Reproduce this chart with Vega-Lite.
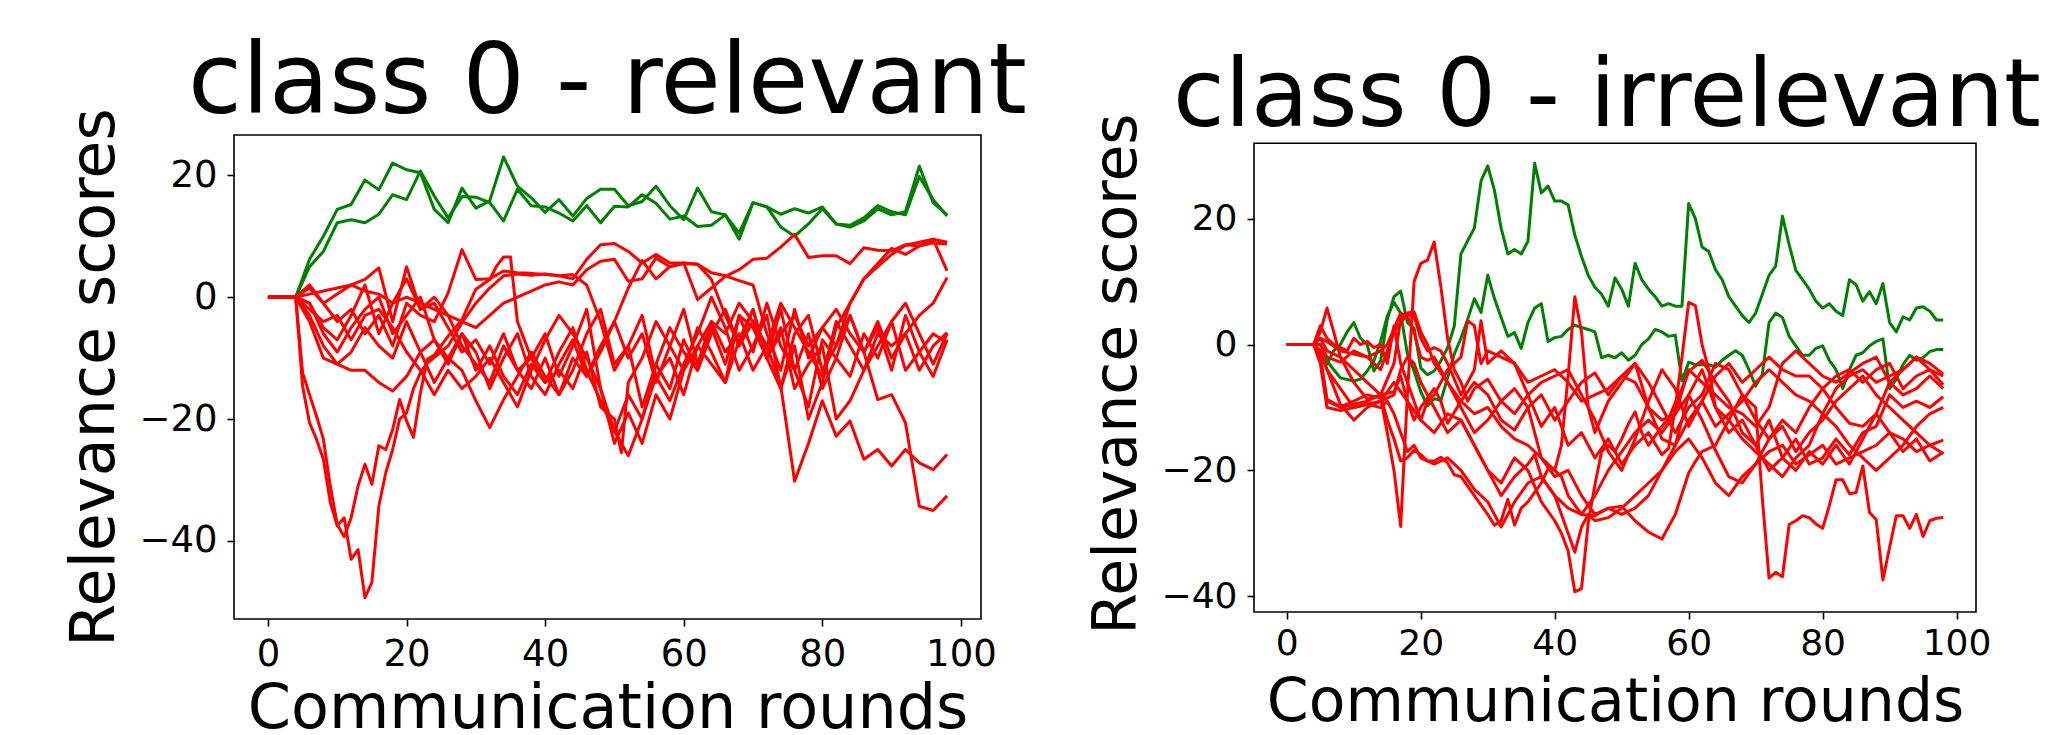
{
"$schema":"https://vega.github.io/schema/vega-lite/v6.json",
"background":"white",
"padding":{"left":63,"top":33,"right":0,"bottom":0},
"spacing":59,
"bounds":"full",
"config":{
"view":{"stroke":"#000000","strokeWidth":1.6},
"axis":{"domain":false,"grid":false,"tickSize":7,"tickWidth":1.6,"tickColor":"#000000","labelColor":"#000000","titleColor":"#000000","labelFont":"DejaVu Sans","titleFont":"DejaVu Sans","titleFontWeight":"normal"},
"title":{"font":"DejaVu Sans","fontWeight":"normal","color":"#000000","frame":"group","anchor":"middle"},
"line":{"strokeJoin":"round"}
},
"datasets":{
"L":[
{"s":"G1","x":0,"y":0},{"s":"G1","x":2,"y":0},{"s":"G1","x":4,"y":0},{"s":"G1","x":6,"y":6.2},{"s":"G1","x":8,"y":10},{"s":"G1","x":10,"y":14.4},{"s":"G1","x":12,"y":15.2},{"s":"G1","x":14,"y":19.2},{"s":"G1","x":16,"y":17.6},{"s":"G1","x":18,"y":22},{"s":"G1","x":20,"y":20.9},{"s":"G1","x":22,"y":20.4},{"s":"G1","x":24,"y":14.4},{"s":"G1","x":26,"y":12.2},{"s":"G1","x":28,"y":17.9},{"s":"G1","x":30,"y":14.6},{"s":"G1","x":32,"y":15.8},{"s":"G1","x":34,"y":23},{"s":"G1","x":36,"y":18.2},{"s":"G1","x":38,"y":16.3},{"s":"G1","x":40,"y":13.9},{"s":"G1","x":42,"y":16},{"s":"G1","x":44,"y":13.3},{"s":"G1","x":46,"y":16.2},{"s":"G1","x":48,"y":17.7},{"s":"G1","x":50,"y":17.7},{"s":"G1","x":52,"y":15},{"s":"G1","x":54,"y":15.7},{"s":"G1","x":56,"y":18.2},{"s":"G1","x":58,"y":15},{"s":"G1","x":60,"y":12.7},{"s":"G1","x":62,"y":17.9},{"s":"G1","x":64,"y":14},{"s":"G1","x":66,"y":13.5},{"s":"G1","x":68,"y":10.5},{"s":"G1","x":70,"y":15.5},{"s":"G1","x":72,"y":14.8},{"s":"G1","x":74,"y":13.6},{"s":"G1","x":76,"y":14.5},{"s":"G1","x":78,"y":13.8},{"s":"G1","x":80,"y":14.8},{"s":"G1","x":82,"y":12},{"s":"G1","x":84,"y":11.5},{"s":"G1","x":86,"y":12.5},{"s":"G1","x":88,"y":14.5},{"s":"G1","x":90,"y":13.5},{"s":"G1","x":92,"y":14},{"s":"G1","x":94,"y":21.5},{"s":"G1","x":96,"y":15.5},{"s":"G1","x":98,"y":13.5},
{"s":"G2","x":0,"y":0},{"s":"G2","x":2,"y":0},{"s":"G2","x":4,"y":0},{"s":"G2","x":6,"y":5},{"s":"G2","x":8,"y":7.5},{"s":"G2","x":10,"y":12.2},{"s":"G2","x":12,"y":12.7},{"s":"G2","x":14,"y":12.2},{"s":"G2","x":16,"y":13.6},{"s":"G2","x":18,"y":16.8},{"s":"G2","x":20,"y":16},{"s":"G2","x":22,"y":20.7},{"s":"G2","x":24,"y":16.6},{"s":"G2","x":26,"y":13},{"s":"G2","x":28,"y":16.5},{"s":"G2","x":30,"y":16.4},{"s":"G2","x":32,"y":15.5},{"s":"G2","x":34,"y":12.5},{"s":"G2","x":36,"y":17.7},{"s":"G2","x":38,"y":15},{"s":"G2","x":40,"y":14.8},{"s":"G2","x":42,"y":13.8},{"s":"G2","x":44,"y":12.5},{"s":"G2","x":46,"y":15},{"s":"G2","x":48,"y":12.2},{"s":"G2","x":50,"y":14.9},{"s":"G2","x":52,"y":14.8},{"s":"G2","x":54,"y":16.8},{"s":"G2","x":56,"y":15.4},{"s":"G2","x":58,"y":12.8},{"s":"G2","x":60,"y":13.3},{"s":"G2","x":62,"y":11.6},{"s":"G2","x":64,"y":11.8},{"s":"G2","x":66,"y":13.5},{"s":"G2","x":68,"y":9.5},{"s":"G2","x":70,"y":15.5},{"s":"G2","x":72,"y":14.8},{"s":"G2","x":74,"y":11.5},{"s":"G2","x":76,"y":10},{"s":"G2","x":78,"y":12},{"s":"G2","x":80,"y":14.5},{"s":"G2","x":82,"y":12},{"s":"G2","x":84,"y":11.8},{"s":"G2","x":86,"y":13},{"s":"G2","x":88,"y":15},{"s":"G2","x":90,"y":14},{"s":"G2","x":92,"y":13.5},{"s":"G2","x":94,"y":19.8},{"s":"G2","x":96,"y":16},{"s":"G2","x":98,"y":13.3},
{"s":"R1","x":0,"y":0},{"s":"R1","x":2,"y":0},{"s":"R1","x":4,"y":0},{"s":"R1","x":5,"y":-14.6},{"s":"R1","x":6,"y":-20.6},{"s":"R1","x":7,"y":-23.3},{"s":"R1","x":8,"y":-26.6},{"s":"R1","x":9,"y":-33.7},{"s":"R1","x":10,"y":-37.5},{"s":"R1","x":11,"y":-36.2},{"s":"R1","x":12,"y":-43},{"s":"R1","x":13,"y":-41.4},{"s":"R1","x":14,"y":-49.3},{"s":"R1","x":15,"y":-46.8},{"s":"R1","x":16,"y":-34.3},{"s":"R1","x":17,"y":-28.8},{"s":"R1","x":18,"y":-25},{"s":"R1","x":19,"y":-20},{"s":"R1","x":20,"y":-19},{"s":"R1","x":21,"y":-15},{"s":"R1","x":22,"y":-12.4},{"s":"R1","x":23,"y":-10.8},{"s":"R1","x":24,"y":-9.9},{"s":"R1","x":26,"y":-8},{"s":"R1","x":28,"y":-4.2},{"s":"R1","x":30,"y":-1},{"s":"R1","x":32,"y":1.5},{"s":"R1","x":34,"y":3.5},{"s":"R1","x":36,"y":3.8},{"s":"R1","x":38,"y":3.6},{"s":"R1","x":40,"y":3.8},{"s":"R1","x":42,"y":3.5},{"s":"R1","x":44,"y":3.7},{"s":"R1","x":46,"y":2},{"s":"R1","x":48,"y":-4},{"s":"R1","x":50,"y":-12},{"s":"R1","x":52,"y":-8},{"s":"R1","x":54,"y":-18},{"s":"R1","x":56,"y":-11},{"s":"R1","x":58,"y":-15},{"s":"R1","x":60,"y":-7},{"s":"R1","x":62,"y":-12},{"s":"R1","x":64,"y":-5},{"s":"R1","x":66,"y":-11},{"s":"R1","x":68,"y":-3},{"s":"R1","x":70,"y":-9},{"s":"R1","x":72,"y":-1},{"s":"R1","x":74,"y":-8},{"s":"R1","x":76,"y":-12},{"s":"R1","x":78,"y":-6},{"s":"R1","x":80,"y":-15},{"s":"R1","x":82,"y":-10},{"s":"R1","x":84,"y":-13},{"s":"R1","x":86,"y":-6},{"s":"R1","x":88,"y":-10},{"s":"R1","x":90,"y":-4},{"s":"R1","x":92,"y":-12},{"s":"R1","x":94,"y":-9},{"s":"R1","x":96,"y":-13},{"s":"R1","x":98,"y":-7},
{"s":"R2","x":0,"y":0},{"s":"R2","x":2,"y":0},{"s":"R2","x":4,"y":0},{"s":"R2","x":5,"y":-12.4},{"s":"R2","x":6,"y":-16},{"s":"R2","x":7,"y":-19.5},{"s":"R2","x":8,"y":-23.3},{"s":"R2","x":9,"y":-31},{"s":"R2","x":10,"y":-37.3},{"s":"R2","x":11,"y":-39.3},{"s":"R2","x":12,"y":-36.2},{"s":"R2","x":13,"y":-31},{"s":"R2","x":14,"y":-27.4},{"s":"R2","x":15,"y":-30.7},{"s":"R2","x":16,"y":-24.4},{"s":"R2","x":17,"y":-25},{"s":"R2","x":18,"y":-21.7},{"s":"R2","x":19,"y":-16.8},{"s":"R2","x":20,"y":-20.3},{"s":"R2","x":21,"y":-23},{"s":"R2","x":22,"y":-15.7},{"s":"R2","x":23,"y":-10.2},{"s":"R2","x":24,"y":-9.5},{"s":"R2","x":26,"y":-6.4},{"s":"R2","x":28,"y":-3.7},{"s":"R2","x":30,"y":1.3},{"s":"R2","x":32,"y":2.9},{"s":"R2","x":33,"y":5.1},{"s":"R2","x":34,"y":6.6},{"s":"R2","x":35,"y":6.6},{"s":"R2","x":36,"y":-4},{"s":"R2","x":38,"y":-10},{"s":"R2","x":40,"y":-14},{"s":"R2","x":42,"y":-12},{"s":"R2","x":44,"y":-15},{"s":"R2","x":46,"y":-9},{"s":"R2","x":48,"y":-18},{"s":"R2","x":50,"y":-20},{"s":"R2","x":51,"y":-25.5},{"s":"R2","x":52,"y":-14},{"s":"R2","x":54,"y":-10},{"s":"R2","x":56,"y":-4},{"s":"R2","x":58,"y":-8},{"s":"R2","x":60,"y":-12},{"s":"R2","x":62,"y":-5},{"s":"R2","x":64,"y":-9},{"s":"R2","x":66,"y":-14},{"s":"R2","x":68,"y":-7},{"s":"R2","x":70,"y":-2},{"s":"R2","x":72,"y":-10},{"s":"R2","x":74,"y":-5},{"s":"R2","x":76,"y":-15},{"s":"R2","x":78,"y":-11},{"s":"R2","x":80,"y":-8},{"s":"R2","x":82,"y":-20},{"s":"R2","x":84,"y":-17},{"s":"R2","x":86,"y":-12},{"s":"R2","x":88,"y":-8},{"s":"R2","x":90,"y":-4},{"s":"R2","x":92,"y":-1},{"s":"R2","x":94,"y":-6},{"s":"R2","x":96,"y":-11},{"s":"R2","x":98,"y":-6},
{"s":"R3","x":0,"y":0},{"s":"R3","x":2,"y":0},{"s":"R3","x":4,"y":0},{"s":"R3","x":6,"y":1.5},{"s":"R3","x":8,"y":-1},{"s":"R3","x":10,"y":-4},{"s":"R3","x":12,"y":-2},{"s":"R3","x":14,"y":-6},{"s":"R3","x":16,"y":-3},{"s":"R3","x":18,"y":-8},{"s":"R3","x":20,"y":-1},{"s":"R3","x":22,"y":-3},{"s":"R3","x":24,"y":-4},{"s":"R3","x":26,"y":0.7},{"s":"R3","x":28,"y":7.8},{"s":"R3","x":30,"y":2.9},{"s":"R3","x":32,"y":3},{"s":"R3","x":34,"y":4.3},{"s":"R3","x":36,"y":4},{"s":"R3","x":38,"y":3.9},{"s":"R3","x":40,"y":3.7},{"s":"R3","x":42,"y":3.5},{"s":"R3","x":44,"y":3},{"s":"R3","x":46,"y":6.2},{"s":"R3","x":48,"y":8.6},{"s":"R3","x":50,"y":8.8},{"s":"R3","x":52,"y":7.5},{"s":"R3","x":54,"y":5.6},{"s":"R3","x":56,"y":7},{"s":"R3","x":58,"y":5.6},{"s":"R3","x":60,"y":5.6},{"s":"R3","x":62,"y":5.4},{"s":"R3","x":64,"y":2.9},{"s":"R3","x":66,"y":-3},{"s":"R3","x":68,"y":-8},{"s":"R3","x":70,"y":-2},{"s":"R3","x":72,"y":-10},{"s":"R3","x":74,"y":-15},{"s":"R3","x":76,"y":-6},{"s":"R3","x":78,"y":-3},{"s":"R3","x":80,"y":-12},{"s":"R3","x":82,"y":-8},{"s":"R3","x":84,"y":-1},{"s":"R3","x":86,"y":3},{"s":"R3","x":88,"y":5},{"s":"R3","x":90,"y":7},{"s":"R3","x":92,"y":8.5},{"s":"R3","x":94,"y":9},{"s":"R3","x":96,"y":9.5},{"s":"R3","x":98,"y":4.3},
{"s":"R4","x":0,"y":0},{"s":"R4","x":2,"y":0},{"s":"R4","x":4,"y":0},{"s":"R4","x":6,"y":0.5},{"s":"R4","x":8,"y":1},{"s":"R4","x":10,"y":1.5},{"s":"R4","x":12,"y":2},{"s":"R4","x":14,"y":1},{"s":"R4","x":16,"y":0.5},{"s":"R4","x":18,"y":-1},{"s":"R4","x":20,"y":0},{"s":"R4","x":22,"y":-1},{"s":"R4","x":24,"y":-2},{"s":"R4","x":26,"y":-3},{"s":"R4","x":28,"y":-4},{"s":"R4","x":30,"y":-5},{"s":"R4","x":32,"y":-3},{"s":"R4","x":34,"y":-1},{"s":"R4","x":36,"y":0},{"s":"R4","x":38,"y":1},{"s":"R4","x":40,"y":2},{"s":"R4","x":42,"y":2.5},{"s":"R4","x":44,"y":2},{"s":"R4","x":46,"y":4.5},{"s":"R4","x":48,"y":5.9},{"s":"R4","x":50,"y":6.2},{"s":"R4","x":52,"y":2.6},{"s":"R4","x":54,"y":3},{"s":"R4","x":56,"y":6.4},{"s":"R4","x":58,"y":5},{"s":"R4","x":60,"y":5.6},{"s":"R4","x":62,"y":-0.4},{"s":"R4","x":64,"y":1.5},{"s":"R4","x":66,"y":3.4},{"s":"R4","x":68,"y":4.5},{"s":"R4","x":70,"y":6.2},{"s":"R4","x":72,"y":6.4},{"s":"R4","x":74,"y":8.2},{"s":"R4","x":76,"y":10.3},{"s":"R4","x":78,"y":6.5},{"s":"R4","x":80,"y":6.8},{"s":"R4","x":82,"y":6.8},{"s":"R4","x":84,"y":5.5},{"s":"R4","x":86,"y":8.1},{"s":"R4","x":88,"y":7.7},{"s":"R4","x":90,"y":7.6},{"s":"R4","x":92,"y":8.6},{"s":"R4","x":94,"y":8.4},{"s":"R4","x":96,"y":8.9},{"s":"R4","x":98,"y":8.7},
{"s":"R5","x":0,"y":0},{"s":"R5","x":2,"y":0},{"s":"R5","x":4,"y":0},{"s":"R5","x":6,"y":-3},{"s":"R5","x":8,"y":-8},{"s":"R5","x":10,"y":-11},{"s":"R5","x":12,"y":-9},{"s":"R5","x":14,"y":-5},{"s":"R5","x":16,"y":-8},{"s":"R5","x":18,"y":-10},{"s":"R5","x":20,"y":-4},{"s":"R5","x":22,"y":-9},{"s":"R5","x":24,"y":-14},{"s":"R5","x":26,"y":-10},{"s":"R5","x":28,"y":-6},{"s":"R5","x":30,"y":-12},{"s":"R5","x":32,"y":-8},{"s":"R5","x":34,"y":-13},{"s":"R5","x":36,"y":-16},{"s":"R5","x":38,"y":-11},{"s":"R5","x":40,"y":-14},{"s":"R5","x":42,"y":-9},{"s":"R5","x":44,"y":-5},{"s":"R5","x":46,"y":-12},{"s":"R5","x":48,"y":-17},{"s":"R5","x":50,"y":-22},{"s":"R5","x":52,"y":-16},{"s":"R5","x":54,"y":-20},{"s":"R5","x":56,"y":-11},{"s":"R5","x":58,"y":-5},{"s":"R5","x":60,"y":-9},{"s":"R5","x":62,"y":-12},{"s":"R5","x":64,"y":-6},{"s":"R5","x":66,"y":-2},{"s":"R5","x":68,"y":-8},{"s":"R5","x":70,"y":-4},{"s":"R5","x":72,"y":-10},{"s":"R5","x":74,"y":-6},{"s":"R5","x":76,"y":-3},{"s":"R5","x":78,"y":-8},{"s":"R5","x":80,"y":-5},{"s":"R5","x":82,"y":-2},{"s":"R5","x":84,"y":-6},{"s":"R5","x":86,"y":-9},{"s":"R5","x":88,"y":-16.8},{"s":"R5","x":90,"y":-16},{"s":"R5","x":92,"y":-20.6},{"s":"R5","x":94,"y":-34.3},{"s":"R5","x":96,"y":-35},{"s":"R5","x":98,"y":-32.6},
{"s":"R6","x":0,"y":0},{"s":"R6","x":2,"y":0},{"s":"R6","x":4,"y":0},{"s":"R6","x":6,"y":-2},{"s":"R6","x":8,"y":-4},{"s":"R6","x":10,"y":-3},{"s":"R6","x":12,"y":-7},{"s":"R6","x":14,"y":-3},{"s":"R6","x":16,"y":-2},{"s":"R6","x":18,"y":-5},{"s":"R6","x":20,"y":-9},{"s":"R6","x":22,"y":-12},{"s":"R6","x":24,"y":-16},{"s":"R6","x":26,"y":-12},{"s":"R6","x":28,"y":-15},{"s":"R6","x":30,"y":-13},{"s":"R6","x":32,"y":-10},{"s":"R6","x":34,"y":-14},{"s":"R6","x":36,"y":-18},{"s":"R6","x":38,"y":-12},{"s":"R6","x":40,"y":-7},{"s":"R6","x":42,"y":-3},{"s":"R6","x":44,"y":-6},{"s":"R6","x":46,"y":-10},{"s":"R6","x":48,"y":-15},{"s":"R6","x":50,"y":-24},{"s":"R6","x":52,"y":-19},{"s":"R6","x":54,"y":-24},{"s":"R6","x":56,"y":-16},{"s":"R6","x":58,"y":-20},{"s":"R6","x":60,"y":-12},{"s":"R6","x":62,"y":-8},{"s":"R6","x":64,"y":-4},{"s":"R6","x":66,"y":-6},{"s":"R6","x":68,"y":-1},{"s":"R6","x":70,"y":-4},{"s":"R6","x":72,"y":-8},{"s":"R6","x":74,"y":-14.5},{"s":"R6","x":76,"y":-30.2},{"s":"R6","x":78,"y":-24},{"s":"R6","x":80,"y":-17},{"s":"R6","x":82,"y":-22.8},{"s":"R6","x":84,"y":-20.3},{"s":"R6","x":86,"y":-26.6},{"s":"R6","x":88,"y":-25},{"s":"R6","x":90,"y":-27.7},{"s":"R6","x":92,"y":-25},{"s":"R6","x":94,"y":-27.2},{"s":"R6","x":96,"y":-28.3},{"s":"R6","x":98,"y":-25.8},
{"s":"R7","x":0,"y":0},{"s":"R7","x":2,"y":0},{"s":"R7","x":4,"y":0},{"s":"R7","x":6,"y":-4},{"s":"R7","x":8,"y":-10},{"s":"R7","x":10,"y":-11},{"s":"R7","x":12,"y":-12},{"s":"R7","x":14,"y":-12},{"s":"R7","x":16,"y":-14},{"s":"R7","x":18,"y":-15.4},{"s":"R7","x":20,"y":-13},{"s":"R7","x":22,"y":-9},{"s":"R7","x":24,"y":-7},{"s":"R7","x":26,"y":-10},{"s":"R7","x":28,"y":-12},{"s":"R7","x":30,"y":-17},{"s":"R7","x":32,"y":-21.4},{"s":"R7","x":34,"y":-16.8},{"s":"R7","x":36,"y":-13},{"s":"R7","x":38,"y":-9},{"s":"R7","x":40,"y":-13},{"s":"R7","x":42,"y":-16},{"s":"R7","x":44,"y":-10},{"s":"R7","x":46,"y":-13},{"s":"R7","x":48,"y":-8},{"s":"R7","x":50,"y":-4},{"s":"R7","x":52,"y":1.5},{"s":"R7","x":54,"y":6},{"s":"R7","x":56,"y":3},{"s":"R7","x":58,"y":5},{"s":"R7","x":60,"y":5.5},{"s":"R7","x":62,"y":5.4},{"s":"R7","x":64,"y":4},{"s":"R7","x":66,"y":3.5},{"s":"R7","x":68,"y":2.7},{"s":"R7","x":70,"y":2},{"s":"R7","x":72,"y":-6},{"s":"R7","x":74,"y":-12},{"s":"R7","x":76,"y":-2},{"s":"R7","x":78,"y":-10},{"s":"R7","x":80,"y":-5},{"s":"R7","x":82,"y":-8},{"s":"R7","x":84,"y":-3},{"s":"R7","x":86,"y":-9},{"s":"R7","x":88,"y":-4},{"s":"R7","x":90,"y":-10},{"s":"R7","x":92,"y":-6},{"s":"R7","x":94,"y":-12},{"s":"R7","x":96,"y":-8},{"s":"R7","x":98,"y":-5.8},
{"s":"R8","x":0,"y":0},{"s":"R8","x":2,"y":0},{"s":"R8","x":4,"y":0},{"s":"R8","x":6,"y":2},{"s":"R8","x":8,"y":-1},{"s":"R8","x":10,"y":0.5},{"s":"R8","x":12,"y":2},{"s":"R8","x":14,"y":2.9},{"s":"R8","x":16,"y":4.8},{"s":"R8","x":18,"y":-4},{"s":"R8","x":20,"y":5},{"s":"R8","x":22,"y":-2},{"s":"R8","x":24,"y":0},{"s":"R8","x":26,"y":-3},{"s":"R8","x":28,"y":-8},{"s":"R8","x":30,"y":-11},{"s":"R8","x":32,"y":-14},{"s":"R8","x":34,"y":-8},{"s":"R8","x":36,"y":-12},{"s":"R8","x":38,"y":-10},{"s":"R8","x":40,"y":-6},{"s":"R8","x":42,"y":-13},{"s":"R8","x":44,"y":-8},{"s":"R8","x":46,"y":-2},{"s":"R8","x":48,"y":-15},{"s":"R8","x":50,"y":-22},{"s":"R8","x":52,"y":-26},{"s":"R8","x":54,"y":-20},{"s":"R8","x":56,"y":-13},{"s":"R8","x":58,"y":-10},{"s":"R8","x":60,"y":-16},{"s":"R8","x":62,"y":-8},{"s":"R8","x":64,"y":-11},{"s":"R8","x":66,"y":-14},{"s":"R8","x":68,"y":-3},{"s":"R8","x":70,"y":-5},{"s":"R8","x":72,"y":-10},{"s":"R8","x":74,"y":-2},{"s":"R8","x":76,"y":-12},{"s":"R8","x":78,"y":-18},{"s":"R8","x":80,"y":-7},{"s":"R8","x":82,"y":-10},{"s":"R8","x":84,"y":-3},{"s":"R8","x":86,"y":-9},{"s":"R8","x":88,"y":-5},{"s":"R8","x":90,"y":-12},{"s":"R8","x":92,"y":-3},{"s":"R8","x":94,"y":-9},{"s":"R8","x":96,"y":-6},{"s":"R8","x":98,"y":-7.5},
{"s":"R9","x":0,"y":0},{"s":"R9","x":2,"y":0},{"s":"R9","x":4,"y":0},{"s":"R9","x":6,"y":-1},{"s":"R9","x":8,"y":-5},{"s":"R9","x":10,"y":-7},{"s":"R9","x":12,"y":-3},{"s":"R9","x":14,"y":2},{"s":"R9","x":16,"y":-6},{"s":"R9","x":18,"y":-1},{"s":"R9","x":20,"y":3},{"s":"R9","x":22,"y":-2},{"s":"R9","x":24,"y":-1},{"s":"R9","x":26,"y":-5},{"s":"R9","x":28,"y":-9},{"s":"R9","x":30,"y":-7},{"s":"R9","x":32,"y":-11},{"s":"R9","x":34,"y":-6},{"s":"R9","x":36,"y":-12},{"s":"R9","x":38,"y":-15},{"s":"R9","x":40,"y":-10},{"s":"R9","x":42,"y":-16},{"s":"R9","x":44,"y":-12},{"s":"R9","x":46,"y":-6},{"s":"R9","x":48,"y":-2},{"s":"R9","x":50,"y":-11},{"s":"R9","x":52,"y":-8},{"s":"R9","x":54,"y":-3},{"s":"R9","x":56,"y":-13},{"s":"R9","x":58,"y":-17},{"s":"R9","x":60,"y":-11},{"s":"R9","x":62,"y":-6},{"s":"R9","x":64,"y":0},{"s":"R9","x":66,"y":-5},{"s":"R9","x":68,"y":-12},{"s":"R9","x":70,"y":-8},{"s":"R9","x":72,"y":-3},{"s":"R9","x":74,"y":-15},{"s":"R9","x":76,"y":-8},{"s":"R9","x":78,"y":-20},{"s":"R9","x":80,"y":-14},{"s":"R9","x":82,"y":-5},{"s":"R9","x":84,"y":-1},{"s":"R9","x":86,"y":3},{"s":"R9","x":88,"y":5.5},{"s":"R9","x":90,"y":8},{"s":"R9","x":92,"y":7},{"s":"R9","x":94,"y":8.4},{"s":"R9","x":96,"y":9.5},{"s":"R9","x":98,"y":9},
{"s":"R10","x":0,"y":0},{"s":"R10","x":2,"y":0},{"s":"R10","x":4,"y":0},{"s":"R10","x":6,"y":-1},{"s":"R10","x":8,"y":-6},{"s":"R10","x":10,"y":-9},{"s":"R10","x":12,"y":-5},{"s":"R10","x":14,"y":-2},{"s":"R10","x":16,"y":0},{"s":"R10","x":18,"y":-6},{"s":"R10","x":20,"y":-3},{"s":"R10","x":22,"y":0},{"s":"R10","x":24,"y":-7},{"s":"R10","x":26,"y":-11},{"s":"R10","x":28,"y":-6},{"s":"R10","x":30,"y":-9},{"s":"R10","x":32,"y":-15},{"s":"R10","x":34,"y":-10},{"s":"R10","x":36,"y":-6},{"s":"R10","x":38,"y":-13},{"s":"R10","x":40,"y":-16},{"s":"R10","x":42,"y":-11},{"s":"R10","x":44,"y":-7},{"s":"R10","x":46,"y":-13},{"s":"R10","x":48,"y":-9},{"s":"R10","x":50,"y":-4},{"s":"R10","x":52,"y":-10},{"s":"R10","x":54,"y":-6},{"s":"R10","x":56,"y":-14},{"s":"R10","x":58,"y":-8},{"s":"R10","x":60,"y":-2},{"s":"R10","x":62,"y":-11},{"s":"R10","x":64,"y":-4},{"s":"R10","x":66,"y":-9},{"s":"R10","x":68,"y":-6},{"s":"R10","x":70,"y":-12},{"s":"R10","x":72,"y":-8},{"s":"R10","x":74,"y":-1},{"s":"R10","x":76,"y":-5},{"s":"R10","x":78,"y":-9},{"s":"R10","x":80,"y":-13},{"s":"R10","x":82,"y":-4},{"s":"R10","x":84,"y":-8},{"s":"R10","x":86,"y":-12},{"s":"R10","x":88,"y":-6},{"s":"R10","x":90,"y":-8},{"s":"R10","x":92,"y":-6},{"s":"R10","x":94,"y":-3},{"s":"R10","x":96,"y":-1},{"s":"R10","x":98,"y":3.2}
],
"R":[
{"s":"G1","x":0,"y":0},{"s":"G1","x":4,"y":0},{"s":"G1","x":5,"y":-1},{"s":"G1","x":6,"y":-3.1},{"s":"G1","x":7,"y":-1},{"s":"G1","x":8,"y":0},{"s":"G1","x":9,"y":2},{"s":"G1","x":10,"y":3.5},{"s":"G1","x":11,"y":1},{"s":"G1","x":12,"y":0},{"s":"G1","x":13,"y":-4.2},{"s":"G1","x":14,"y":-2.6},{"s":"G1","x":15,"y":4},{"s":"G1","x":16,"y":7.6},{"s":"G1","x":17,"y":8.5},{"s":"G1","x":18,"y":3.5},{"s":"G1","x":19,"y":2.6},{"s":"G1","x":20,"y":-3.7},{"s":"G1","x":21,"y":-4.8},{"s":"G1","x":22,"y":-4.2},{"s":"G1","x":23,"y":-2.6},{"s":"G1","x":24,"y":-0.5},{"s":"G1","x":25,"y":2.9},{"s":"G1","x":26,"y":14.4},{"s":"G1","x":27,"y":16.5},{"s":"G1","x":28,"y":18.5},{"s":"G1","x":29,"y":26},{"s":"G1","x":30,"y":28.4},{"s":"G1","x":31,"y":24.5},{"s":"G1","x":32,"y":18.5},{"s":"G1","x":33,"y":14.4},{"s":"G1","x":34,"y":15.1},{"s":"G1","x":35,"y":14.4},{"s":"G1","x":36,"y":16.4},{"s":"G1","x":37,"y":28.8},{"s":"G1","x":38,"y":24.1},{"s":"G1","x":39,"y":25.2},{"s":"G1","x":40,"y":22.8},{"s":"G1","x":41,"y":22.8},{"s":"G1","x":42,"y":22.2},{"s":"G1","x":43,"y":17.4},{"s":"G1","x":44,"y":14},{"s":"G1","x":45,"y":11},{"s":"G1","x":46,"y":9.1},{"s":"G1","x":47,"y":8},{"s":"G1","x":48,"y":6.1},{"s":"G1","x":49,"y":10.6},{"s":"G1","x":50,"y":8.8},{"s":"G1","x":51,"y":6.1},{"s":"G1","x":52,"y":12.9},{"s":"G1","x":53,"y":10.3},{"s":"G1","x":54,"y":8.8},{"s":"G1","x":55,"y":7.6},{"s":"G1","x":56,"y":6.1},{"s":"G1","x":57,"y":6.5},{"s":"G1","x":58,"y":6.1},{"s":"G1","x":59,"y":6.1},{"s":"G1","x":60,"y":22.4},{"s":"G1","x":61,"y":20},{"s":"G1","x":62,"y":15.5},{"s":"G1","x":63,"y":14.8},{"s":"G1","x":64,"y":11.9},{"s":"G1","x":65,"y":10.3},{"s":"G1","x":66,"y":7.6},{"s":"G1","x":67,"y":6.1},{"s":"G1","x":68,"y":4.6},{"s":"G1","x":69,"y":3.5},{"s":"G1","x":70,"y":5},{"s":"G1","x":71,"y":8},{"s":"G1","x":72,"y":11},{"s":"G1","x":73,"y":12.5},{"s":"G1","x":74,"y":20.4},{"s":"G1","x":75,"y":15.9},{"s":"G1","x":76,"y":11.8},{"s":"G1","x":77,"y":10.3},{"s":"G1","x":78,"y":8.8},{"s":"G1","x":79,"y":6.9},{"s":"G1","x":80,"y":5.8},{"s":"G1","x":81,"y":6.5},{"s":"G1","x":82,"y":5.3},{"s":"G1","x":83,"y":4.6},{"s":"G1","x":84,"y":10.3},{"s":"G1","x":85,"y":9.5},{"s":"G1","x":86,"y":6.9},{"s":"G1","x":87,"y":8.4},{"s":"G1","x":88,"y":6.5},{"s":"G1","x":89,"y":9.7},{"s":"G1","x":90,"y":3.5},{"s":"G1","x":91,"y":2},{"s":"G1","x":92,"y":4.4},{"s":"G1","x":93,"y":3.9},{"s":"G1","x":94,"y":5.8},{"s":"G1","x":95,"y":6},{"s":"G1","x":96,"y":5.3},{"s":"G1","x":97,"y":3.9},{"s":"G1","x":98,"y":3.9},
{"s":"G2","x":0,"y":0},{"s":"G2","x":4,"y":0},{"s":"G2","x":5,"y":-1},{"s":"G2","x":6,"y":-2.6},{"s":"G2","x":7,"y":-4},{"s":"G2","x":8,"y":-5.3},{"s":"G2","x":10,"y":-5.8},{"s":"G2","x":11,"y":-5.5},{"s":"G2","x":12,"y":-4.2},{"s":"G2","x":13,"y":-2.6},{"s":"G2","x":14,"y":0.5},{"s":"G2","x":15,"y":4.5},{"s":"G2","x":16,"y":6.7},{"s":"G2","x":17,"y":5},{"s":"G2","x":18,"y":-1.5},{"s":"G2","x":19,"y":-4.2},{"s":"G2","x":20,"y":-7.5},{"s":"G2","x":21,"y":-9.7},{"s":"G2","x":22,"y":-8.6},{"s":"G2","x":23,"y":-8.9},{"s":"G2","x":24,"y":-5.3},{"s":"G2","x":25,"y":-1.5},{"s":"G2","x":26,"y":1},{"s":"G2","x":27,"y":4},{"s":"G2","x":28,"y":7.3},{"s":"G2","x":29,"y":5.1},{"s":"G2","x":30,"y":11},{"s":"G2","x":31,"y":7.3},{"s":"G2","x":32,"y":4.3},{"s":"G2","x":33,"y":1.3},{"s":"G2","x":34,"y":1.9},{"s":"G2","x":35,"y":-0.6},{"s":"G2","x":36,"y":3.5},{"s":"G2","x":37,"y":5.8},{"s":"G2","x":38,"y":6.5},{"s":"G2","x":39,"y":0.5},{"s":"G2","x":40,"y":1.1},{"s":"G2","x":41,"y":1.3},{"s":"G2","x":42,"y":2.4},{"s":"G2","x":43,"y":3.1},{"s":"G2","x":44,"y":2.7},{"s":"G2","x":45,"y":2.4},{"s":"G2","x":46,"y":2},{"s":"G2","x":47,"y":-2.1},{"s":"G2","x":48,"y":-1.7},{"s":"G2","x":49,"y":-2.1},{"s":"G2","x":50,"y":-1.3},{"s":"G2","x":51,"y":-2.5},{"s":"G2","x":52,"y":-1.7},{"s":"G2","x":53,"y":0},{"s":"G2","x":54,"y":0.9},{"s":"G2","x":55,"y":2.4},{"s":"G2","x":56,"y":2},{"s":"G2","x":57,"y":1.3},{"s":"G2","x":58,"y":1.5},{"s":"G2","x":59,"y":-5.8},{"s":"G2","x":60,"y":-2.8},{"s":"G2","x":61,"y":-3.2},{"s":"G2","x":62,"y":-3.2},{"s":"G2","x":63,"y":-3.2},{"s":"G2","x":64,"y":-3.6},{"s":"G2","x":65,"y":-2.5},{"s":"G2","x":66,"y":-1.7},{"s":"G2","x":67,"y":-1},{"s":"G2","x":68,"y":-1.7},{"s":"G2","x":69,"y":-4},{"s":"G2","x":70,"y":-6.6},{"s":"G2","x":71,"y":-4.7},{"s":"G2","x":72,"y":3.5},{"s":"G2","x":73,"y":5},{"s":"G2","x":74,"y":4.3},{"s":"G2","x":75,"y":1.3},{"s":"G2","x":76,"y":-0.2},{"s":"G2","x":77,"y":-1.7},{"s":"G2","x":78,"y":-1.7},{"s":"G2","x":79,"y":-0.6},{"s":"G2","x":80,"y":-0.2},{"s":"G2","x":81,"y":-2.5},{"s":"G2","x":82,"y":-4},{"s":"G2","x":83,"y":-7},{"s":"G2","x":84,"y":-4},{"s":"G2","x":85,"y":-1.7},{"s":"G2","x":86,"y":-1.3},{"s":"G2","x":87,"y":-0.2},{"s":"G2","x":88,"y":0.5},{"s":"G2","x":89,"y":0.9},{"s":"G2","x":90,"y":-7},{"s":"G2","x":91,"y":-5.5},{"s":"G2","x":92,"y":-3.2},{"s":"G2","x":93,"y":-1.7},{"s":"G2","x":94,"y":-2.5},{"s":"G2","x":95,"y":-2.1},{"s":"G2","x":96,"y":-1.1},{"s":"G2","x":97,"y":-0.8},{"s":"G2","x":98,"y":-0.8},
{"s":"R1","x":0,"y":0},{"s":"R1","x":4,"y":0},{"s":"R1","x":5,"y":-2},{"s":"R1","x":6,"y":-8.7},{"s":"R1","x":8,"y":-9.9},{"s":"R1","x":10,"y":-9},{"s":"R1","x":12,"y":-8},{"s":"R1","x":14,"y":-8.5},{"s":"R1","x":15,"y":-14},{"s":"R1","x":16,"y":-20},{"s":"R1","x":17,"y":-28.9},{"s":"R1","x":18,"y":-8},{"s":"R1","x":19,"y":10},{"s":"R1","x":20,"y":12.9},{"s":"R1","x":21,"y":13.4},{"s":"R1","x":22,"y":16.3},{"s":"R1","x":23,"y":9.2},{"s":"R1","x":24,"y":1},{"s":"R1","x":25,"y":-4},{"s":"R1","x":26,"y":-6},{"s":"R1","x":27,"y":-9},{"s":"R1","x":28,"y":-7},{"s":"R1","x":30,"y":-5.5},{"s":"R1","x":32,"y":-9},{"s":"R1","x":34,"y":-7},{"s":"R1","x":36,"y":-10},{"s":"R1","x":38,"y":-8},{"s":"R1","x":40,"y":-12},{"s":"R1","x":42,"y":-9},{"s":"R1","x":44,"y":-6},{"s":"R1","x":46,"y":-4.5},{"s":"R1","x":48,"y":-8},{"s":"R1","x":50,"y":-5},{"s":"R1","x":52,"y":-3},{"s":"R1","x":54,"y":-10},{"s":"R1","x":56,"y":-15},{"s":"R1","x":58,"y":-16},{"s":"R1","x":60,"y":-8},{"s":"R1","x":62,"y":-4},{"s":"R1","x":64,"y":-10},{"s":"R1","x":66,"y":-12},{"s":"R1","x":68,"y":-15},{"s":"R1","x":70,"y":-17},{"s":"R1","x":72,"y":-19},{"s":"R1","x":74,"y":-21},{"s":"R1","x":76,"y":-18},{"s":"R1","x":78,"y":-16},{"s":"R1","x":80,"y":-11},{"s":"R1","x":82,"y":-7},{"s":"R1","x":84,"y":-5},{"s":"R1","x":86,"y":-4},{"s":"R1","x":88,"y":-6},{"s":"R1","x":90,"y":-5},{"s":"R1","x":92,"y":-4},{"s":"R1","x":94,"y":-2},{"s":"R1","x":96,"y":-3},{"s":"R1","x":98,"y":-4.7},
{"s":"R2","x":0,"y":0},{"s":"R2","x":4,"y":0},{"s":"R2","x":5,"y":-1},{"s":"R2","x":6,"y":-4},{"s":"R2","x":8,"y":-7},{"s":"R2","x":10,"y":-10},{"s":"R2","x":12,"y":-9.5},{"s":"R2","x":14,"y":-9},{"s":"R2","x":16,"y":-6},{"s":"R2","x":18,"y":-9},{"s":"R2","x":20,"y":-12},{"s":"R2","x":22,"y":-14},{"s":"R2","x":24,"y":-11},{"s":"R2","x":26,"y":-12},{"s":"R2","x":28,"y":-16},{"s":"R2","x":30,"y":-20},{"s":"R2","x":32,"y":-22},{"s":"R2","x":34,"y":-18},{"s":"R2","x":36,"y":-20},{"s":"R2","x":38,"y":-25},{"s":"R2","x":40,"y":-28},{"s":"R2","x":41,"y":-30},{"s":"R2","x":42,"y":-32.8},{"s":"R2","x":43,"y":-39.3},{"s":"R2","x":44,"y":-38.8},{"s":"R2","x":45,"y":-28.3},{"s":"R2","x":46,"y":-22.3},{"s":"R2","x":47,"y":-17},{"s":"R2","x":48,"y":-16},{"s":"R2","x":49,"y":-17},{"s":"R2","x":50,"y":-15},{"s":"R2","x":51,"y":-12.6},{"s":"R2","x":52,"y":-10.7},{"s":"R2","x":53,"y":-14},{"s":"R2","x":54,"y":-16},{"s":"R2","x":55,"y":-14.5},{"s":"R2","x":56,"y":-13},{"s":"R2","x":57,"y":-11.8},{"s":"R2","x":58,"y":-9.2},{"s":"R2","x":59,"y":-7},{"s":"R2","x":60,"y":-4.3},{"s":"R2","x":62,"y":-2.5},{"s":"R2","x":64,"y":-6},{"s":"R2","x":66,"y":-9},{"s":"R2","x":68,"y":-14},{"s":"R2","x":70,"y":-16},{"s":"R2","x":72,"y":-20},{"s":"R2","x":74,"y":-18},{"s":"R2","x":76,"y":-15},{"s":"R2","x":78,"y":-19},{"s":"R2","x":80,"y":-18},{"s":"R2","x":82,"y":-15},{"s":"R2","x":84,"y":-17.5},{"s":"R2","x":86,"y":-14},{"s":"R2","x":88,"y":-13},{"s":"R2","x":90,"y":-8},{"s":"R2","x":92,"y":-10},{"s":"R2","x":94,"y":-9},{"s":"R2","x":96,"y":-10},{"s":"R2","x":98,"y":-8.3},
{"s":"R3","x":0,"y":0},{"s":"R3","x":4,"y":0},{"s":"R3","x":5,"y":2},{"s":"R3","x":6,"y":5.8},{"s":"R3","x":7,"y":2},{"s":"R3","x":8,"y":-2},{"s":"R3","x":10,"y":-6},{"s":"R3","x":12,"y":-8.7},{"s":"R3","x":14,"y":-8},{"s":"R3","x":16,"y":-7.5},{"s":"R3","x":17,"y":-5},{"s":"R3","x":18,"y":-9},{"s":"R3","x":19,"y":-12},{"s":"R3","x":20,"y":-10},{"s":"R3","x":22,"y":-7},{"s":"R3","x":23,"y":-9},{"s":"R3","x":24,"y":-12.5},{"s":"R3","x":26,"y":-9},{"s":"R3","x":28,"y":-6},{"s":"R3","x":30,"y":-8},{"s":"R3","x":32,"y":-12},{"s":"R3","x":34,"y":-13.6},{"s":"R3","x":36,"y":-10},{"s":"R3","x":38,"y":-18},{"s":"R3","x":40,"y":-20},{"s":"R3","x":41,"y":-16},{"s":"R3","x":42,"y":-5},{"s":"R3","x":43,"y":7.6},{"s":"R3","x":44,"y":2},{"s":"R3","x":45,"y":-10},{"s":"R3","x":46,"y":-14},{"s":"R3","x":48,"y":-9},{"s":"R3","x":50,"y":-6},{"s":"R3","x":52,"y":-3},{"s":"R3","x":54,"y":-6},{"s":"R3","x":56,"y":-10},{"s":"R3","x":58,"y":-14},{"s":"R3","x":60,"y":-10},{"s":"R3","x":62,"y":-8},{"s":"R3","x":64,"y":-3},{"s":"R3","x":66,"y":-4},{"s":"R3","x":68,"y":-8},{"s":"R3","x":70,"y":-12},{"s":"R3","x":72,"y":-15},{"s":"R3","x":74,"y":-13},{"s":"R3","x":76,"y":-17},{"s":"R3","x":78,"y":-14},{"s":"R3","x":80,"y":-12},{"s":"R3","x":82,"y":-9},{"s":"R3","x":84,"y":-7},{"s":"R3","x":86,"y":-5},{"s":"R3","x":88,"y":-8},{"s":"R3","x":90,"y":-10},{"s":"R3","x":92,"y":-12},{"s":"R3","x":94,"y":-14},{"s":"R3","x":96,"y":-16},{"s":"R3","x":98,"y":-15.2},
{"s":"R4","x":0,"y":0},{"s":"R4","x":4,"y":0},{"s":"R4","x":5,"y":1},{"s":"R4","x":6,"y":-1},{"s":"R4","x":8,"y":-2},{"s":"R4","x":10,"y":-4},{"s":"R4","x":12,"y":-6},{"s":"R4","x":14,"y":-8},{"s":"R4","x":16,"y":-3},{"s":"R4","x":17,"y":4},{"s":"R4","x":18,"y":5},{"s":"R4","x":19,"y":5.2},{"s":"R4","x":20,"y":2},{"s":"R4","x":21,"y":0},{"s":"R4","x":22,"y":-3},{"s":"R4","x":24,"y":-6},{"s":"R4","x":26,"y":-10},{"s":"R4","x":28,"y":-14},{"s":"R4","x":30,"y":-12},{"s":"R4","x":32,"y":-9},{"s":"R4","x":34,"y":-11},{"s":"R4","x":36,"y":-8},{"s":"R4","x":38,"y":-13},{"s":"R4","x":40,"y":-10},{"s":"R4","x":42,"y":-16},{"s":"R4","x":44,"y":-14},{"s":"R4","x":46,"y":-18},{"s":"R4","x":48,"y":-15},{"s":"R4","x":50,"y":-19},{"s":"R4","x":52,"y":-16},{"s":"R4","x":54,"y":-14},{"s":"R4","x":56,"y":-17.5},{"s":"R4","x":57,"y":-16.5},{"s":"R4","x":58,"y":-10},{"s":"R4","x":59,"y":-2},{"s":"R4","x":60,"y":6.7},{"s":"R4","x":61,"y":6.2},{"s":"R4","x":62,"y":0},{"s":"R4","x":63,"y":-4},{"s":"R4","x":64,"y":-10},{"s":"R4","x":66,"y":-14},{"s":"R4","x":68,"y":-12},{"s":"R4","x":70,"y":-16},{"s":"R4","x":72,"y":-12},{"s":"R4","x":74,"y":-18},{"s":"R4","x":76,"y":-20},{"s":"R4","x":78,"y":-17},{"s":"R4","x":80,"y":-19},{"s":"R4","x":82,"y":-16},{"s":"R4","x":84,"y":-19},{"s":"R4","x":86,"y":-15},{"s":"R4","x":88,"y":-11},{"s":"R4","x":90,"y":-14},{"s":"R4","x":92,"y":-17},{"s":"R4","x":94,"y":-15},{"s":"R4","x":96,"y":-18.5},{"s":"R4","x":98,"y":-17.1},
{"s":"R5","x":0,"y":0},{"s":"R5","x":4,"y":0},{"s":"R5","x":5,"y":-3},{"s":"R5","x":6,"y":-10},{"s":"R5","x":8,"y":-10.5},{"s":"R5","x":10,"y":-10},{"s":"R5","x":12,"y":-9.5},{"s":"R5","x":14,"y":-10},{"s":"R5","x":15,"y":-9},{"s":"R5","x":16,"y":-11},{"s":"R5","x":17,"y":-14},{"s":"R5","x":18,"y":-17},{"s":"R5","x":19,"y":-16},{"s":"R5","x":20,"y":-18},{"s":"R5","x":22,"y":-19},{"s":"R5","x":24,"y":-18},{"s":"R5","x":26,"y":-20},{"s":"R5","x":28,"y":-23},{"s":"R5","x":30,"y":-25},{"s":"R5","x":31,"y":-27},{"s":"R5","x":32,"y":-29},{"s":"R5","x":33,"y":-27},{"s":"R5","x":34,"y":-25},{"s":"R5","x":36,"y":-22},{"s":"R5","x":38,"y":-21},{"s":"R5","x":40,"y":-24},{"s":"R5","x":42,"y":-26},{"s":"R5","x":44,"y":-27},{"s":"R5","x":46,"y":-27.2},{"s":"R5","x":48,"y":-26},{"s":"R5","x":50,"y":-25.7},{"s":"R5","x":52,"y":-28},{"s":"R5","x":54,"y":-29.8},{"s":"R5","x":56,"y":-30.9},{"s":"R5","x":58,"y":-27},{"s":"R5","x":60,"y":-20.4},{"s":"R5","x":61,"y":-18.6},{"s":"R5","x":62,"y":-17},{"s":"R5","x":64,"y":-16},{"s":"R5","x":66,"y":-12},{"s":"R5","x":68,"y":-8},{"s":"R5","x":70,"y":-10},{"s":"R5","x":71,"y":-24.5},{"s":"R5","x":72,"y":-37.1},{"s":"R5","x":73,"y":-36.2},{"s":"R5","x":74,"y":-36.9},{"s":"R5","x":75,"y":-28.6},{"s":"R5","x":76,"y":-28},{"s":"R5","x":77,"y":-27.2},{"s":"R5","x":78,"y":-27.5},{"s":"R5","x":79,"y":-28.5},{"s":"R5","x":80,"y":-29.2},{"s":"R5","x":81,"y":-25.6},{"s":"R5","x":82,"y":-21.5},{"s":"R5","x":83,"y":-21.5},{"s":"R5","x":84,"y":-23.7},{"s":"R5","x":85,"y":-23.5},{"s":"R5","x":86,"y":-19.3},{"s":"R5","x":87,"y":-26.7},{"s":"R5","x":88,"y":-27.8},{"s":"R5","x":89,"y":-37.4},{"s":"R5","x":90,"y":-32.2},{"s":"R5","x":91,"y":-27.2},{"s":"R5","x":92,"y":-27.2},{"s":"R5","x":93,"y":-29.2},{"s":"R5","x":94,"y":-27},{"s":"R5","x":95,"y":-30.5},{"s":"R5","x":96,"y":-28},{"s":"R5","x":97,"y":-27.6},{"s":"R5","x":98,"y":-27.5},
{"s":"R6","x":0,"y":0},{"s":"R6","x":4,"y":0},{"s":"R6","x":5,"y":-2},{"s":"R6","x":6,"y":-9},{"s":"R6","x":8,"y":-10},{"s":"R6","x":10,"y":-9.5},{"s":"R6","x":12,"y":-9},{"s":"R6","x":14,"y":-8},{"s":"R6","x":15,"y":-12},{"s":"R6","x":16,"y":-15},{"s":"R6","x":17,"y":-18.5},{"s":"R6","x":18,"y":-18},{"s":"R6","x":19,"y":-16.8},{"s":"R6","x":20,"y":-17.5},{"s":"R6","x":21,"y":-18.5},{"s":"R6","x":22,"y":-18.5},{"s":"R6","x":23,"y":-17.9},{"s":"R6","x":24,"y":-18.8},{"s":"R6","x":25,"y":-20.7},{"s":"R6","x":26,"y":-21},{"s":"R6","x":28,"y":-24},{"s":"R6","x":30,"y":-27},{"s":"R6","x":31,"y":-28.7},{"s":"R6","x":32,"y":-28},{"s":"R6","x":33,"y":-24.6},{"s":"R6","x":34,"y":-28.7},{"s":"R6","x":35,"y":-26},{"s":"R6","x":36,"y":-25},{"s":"R6","x":38,"y":-22},{"s":"R6","x":39,"y":-19.7},{"s":"R6","x":40,"y":-20},{"s":"R6","x":41,"y":-21},{"s":"R6","x":42,"y":-24},{"s":"R6","x":44,"y":-27},{"s":"R6","x":46,"y":-24},{"s":"R6","x":48,"y":-20},{"s":"R6","x":50,"y":-17},{"s":"R6","x":52,"y":-14},{"s":"R6","x":54,"y":-12},{"s":"R6","x":56,"y":-14},{"s":"R6","x":58,"y":-11},{"s":"R6","x":60,"y":-8},{"s":"R6","x":62,"y":-12},{"s":"R6","x":64,"y":-16.8},{"s":"R6","x":66,"y":-21},{"s":"R6","x":68,"y":-22},{"s":"R6","x":70,"y":-19},{"s":"R6","x":72,"y":-15},{"s":"R6","x":74,"y":-12},{"s":"R6","x":76,"y":-14},{"s":"R6","x":78,"y":-10},{"s":"R6","x":80,"y":-7},{"s":"R6","x":82,"y":-5},{"s":"R6","x":84,"y":-4},{"s":"R6","x":86,"y":-6},{"s":"R6","x":88,"y":-4},{"s":"R6","x":90,"y":-3},{"s":"R6","x":92,"y":-7},{"s":"R6","x":94,"y":-5},{"s":"R6","x":96,"y":-4},{"s":"R6","x":98,"y":-6.4},
{"s":"R7","x":0,"y":0},{"s":"R7","x":4,"y":0},{"s":"R7","x":5,"y":3},{"s":"R7","x":6,"y":1},{"s":"R7","x":7,"y":0},{"s":"R7","x":8,"y":-0.5},{"s":"R7","x":9,"y":-1},{"s":"R7","x":10,"y":1},{"s":"R7","x":11,"y":0},{"s":"R7","x":12,"y":0.5},{"s":"R7","x":13,"y":-0.5},{"s":"R7","x":14,"y":0},{"s":"R7","x":15,"y":-3},{"s":"R7","x":16,"y":3},{"s":"R7","x":17,"y":-3},{"s":"R7","x":18,"y":-6},{"s":"R7","x":19,"y":-9},{"s":"R7","x":20,"y":-12},{"s":"R7","x":21,"y":-9},{"s":"R7","x":22,"y":-8},{"s":"R7","x":24,"y":-4},{"s":"R7","x":26,"y":-2},{"s":"R7","x":27,"y":3.8},{"s":"R7","x":28,"y":3},{"s":"R7","x":29,"y":-3},{"s":"R7","x":30,"y":-1},{"s":"R7","x":32,"y":-2},{"s":"R7","x":34,"y":-3},{"s":"R7","x":36,"y":-8},{"s":"R7","x":38,"y":-6},{"s":"R7","x":40,"y":-5},{"s":"R7","x":42,"y":-4},{"s":"R7","x":44,"y":-8},{"s":"R7","x":46,"y":-12},{"s":"R7","x":48,"y":-17},{"s":"R7","x":50,"y":-20},{"s":"R7","x":52,"y":-15},{"s":"R7","x":54,"y":-9},{"s":"R7","x":56,"y":-4},{"s":"R7","x":58,"y":-7},{"s":"R7","x":60,"y":-13},{"s":"R7","x":62,"y":-9},{"s":"R7","x":64,"y":-5},{"s":"R7","x":66,"y":-3},{"s":"R7","x":68,"y":-6},{"s":"R7","x":70,"y":-4},{"s":"R7","x":72,"y":-2},{"s":"R7","x":74,"y":-4},{"s":"R7","x":76,"y":-5},{"s":"R7","x":78,"y":-5},{"s":"R7","x":80,"y":-7},{"s":"R7","x":82,"y":-10},{"s":"R7","x":84,"y":-12.5},{"s":"R7","x":86,"y":-13},{"s":"R7","x":88,"y":-11},{"s":"R7","x":90,"y":-6},{"s":"R7","x":92,"y":-4},{"s":"R7","x":94,"y":-2},{"s":"R7","x":96,"y":-4},{"s":"R7","x":98,"y":-5},
{"s":"R8","x":0,"y":0},{"s":"R8","x":4,"y":0},{"s":"R8","x":5,"y":0},{"s":"R8","x":6,"y":-2},{"s":"R8","x":8,"y":-2.8},{"s":"R8","x":10,"y":-1},{"s":"R8","x":12,"y":-2},{"s":"R8","x":14,"y":-1},{"s":"R8","x":15,"y":0},{"s":"R8","x":16,"y":2.5},{"s":"R8","x":17,"y":5},{"s":"R8","x":18,"y":4.5},{"s":"R8","x":19,"y":2},{"s":"R8","x":20,"y":-2},{"s":"R8","x":21,"y":-2.5},{"s":"R8","x":22,"y":-2},{"s":"R8","x":23,"y":-4},{"s":"R8","x":24,"y":-6},{"s":"R8","x":26,"y":-9},{"s":"R8","x":28,"y":-11},{"s":"R8","x":30,"y":-10},{"s":"R8","x":32,"y":-13},{"s":"R8","x":34,"y":-15},{"s":"R8","x":36,"y":-16},{"s":"R8","x":38,"y":-18},{"s":"R8","x":40,"y":-21},{"s":"R8","x":42,"y":-20},{"s":"R8","x":44,"y":-24},{"s":"R8","x":46,"y":-27},{"s":"R8","x":48,"y":-26},{"s":"R8","x":50,"y":-27},{"s":"R8","x":52,"y":-26},{"s":"R8","x":54,"y":-24},{"s":"R8","x":56,"y":-20},{"s":"R8","x":58,"y":-16},{"s":"R8","x":60,"y":-12},{"s":"R8","x":62,"y":-9},{"s":"R8","x":64,"y":-13},{"s":"R8","x":66,"y":-11},{"s":"R8","x":68,"y":-9},{"s":"R8","x":70,"y":-6},{"s":"R8","x":72,"y":-4},{"s":"R8","x":74,"y":-6},{"s":"R8","x":76,"y":-8},{"s":"R8","x":78,"y":-9},{"s":"R8","x":80,"y":-11},{"s":"R8","x":82,"y":-13},{"s":"R8","x":84,"y":-16},{"s":"R8","x":86,"y":-18},{"s":"R8","x":88,"y":-20},{"s":"R8","x":90,"y":-18},{"s":"R8","x":92,"y":-16},{"s":"R8","x":94,"y":-13},{"s":"R8","x":96,"y":-11},{"s":"R8","x":98,"y":-10},
{"s":"R9","x":0,"y":0},{"s":"R9","x":4,"y":0},{"s":"R9","x":5,"y":1},{"s":"R9","x":6,"y":0.5},{"s":"R9","x":8,"y":-1},{"s":"R9","x":10,"y":-1.5},{"s":"R9","x":12,"y":-2},{"s":"R9","x":14,"y":-4},{"s":"R9","x":15,"y":-1},{"s":"R9","x":16,"y":2},{"s":"R9","x":17,"y":3.5},{"s":"R9","x":18,"y":4.8},{"s":"R9","x":19,"y":4.5},{"s":"R9","x":20,"y":1},{"s":"R9","x":21,"y":-1},{"s":"R9","x":22,"y":-0.5},{"s":"R9","x":23,"y":-1},{"s":"R9","x":24,"y":-3},{"s":"R9","x":26,"y":-8},{"s":"R9","x":28,"y":-4},{"s":"R9","x":29,"y":3.8},{"s":"R9","x":30,"y":-3},{"s":"R9","x":32,"y":-1},{"s":"R9","x":33,"y":-2},{"s":"R9","x":34,"y":-3},{"s":"R9","x":36,"y":-6},{"s":"R9","x":38,"y":-5},{"s":"R9","x":40,"y":-4},{"s":"R9","x":42,"y":-6},{"s":"R9","x":44,"y":-9},{"s":"R9","x":46,"y":-8},{"s":"R9","x":48,"y":-7},{"s":"R9","x":50,"y":-5},{"s":"R9","x":52,"y":-6},{"s":"R9","x":54,"y":-10},{"s":"R9","x":56,"y":-12},{"s":"R9","x":58,"y":-11},{"s":"R9","x":60,"y":-4},{"s":"R9","x":62,"y":-6},{"s":"R9","x":64,"y":-8},{"s":"R9","x":66,"y":-10},{"s":"R9","x":68,"y":-11},{"s":"R9","x":70,"y":-13},{"s":"R9","x":72,"y":-10},{"s":"R9","x":74,"y":-3},{"s":"R9","x":76,"y":-1},{"s":"R9","x":78,"y":-3},{"s":"R9","x":80,"y":-5},{"s":"R9","x":82,"y":-6},{"s":"R9","x":84,"y":-4.5},{"s":"R9","x":86,"y":-3},{"s":"R9","x":88,"y":-2},{"s":"R9","x":90,"y":-6},{"s":"R9","x":92,"y":-8},{"s":"R9","x":94,"y":-7},{"s":"R9","x":96,"y":-5},{"s":"R9","x":98,"y":-7},
{"s":"R10","x":0,"y":0},{"s":"R10","x":4,"y":0},{"s":"R10","x":5,"y":-1},{"s":"R10","x":6,"y":-4},{"s":"R10","x":8,"y":-9.5},{"s":"R10","x":10,"y":-12},{"s":"R10","x":12,"y":-10},{"s":"R10","x":14,"y":-9},{"s":"R10","x":16,"y":-8},{"s":"R10","x":17,"y":-4},{"s":"R10","x":18,"y":-2},{"s":"R10","x":19,"y":-3},{"s":"R10","x":20,"y":-6},{"s":"R10","x":22,"y":-10},{"s":"R10","x":24,"y":-14},{"s":"R10","x":26,"y":-12},{"s":"R10","x":28,"y":-16},{"s":"R10","x":30,"y":-20},{"s":"R10","x":32,"y":-24},{"s":"R10","x":34,"y":-21},{"s":"R10","x":36,"y":-19},{"s":"R10","x":37,"y":-17.5},{"s":"R10","x":38,"y":-21},{"s":"R10","x":40,"y":-24},{"s":"R10","x":42,"y":-30},{"s":"R10","x":43,"y":-33},{"s":"R10","x":44,"y":-29},{"s":"R10","x":45,"y":-27},{"s":"R10","x":46,"y":-28},{"s":"R10","x":48,"y":-27.5},{"s":"R10","x":50,"y":-26},{"s":"R10","x":52,"y":-24},{"s":"R10","x":54,"y":-22},{"s":"R10","x":56,"y":-20},{"s":"R10","x":58,"y":-17},{"s":"R10","x":60,"y":-15},{"s":"R10","x":62,"y":-18},{"s":"R10","x":64,"y":-22},{"s":"R10","x":66,"y":-24},{"s":"R10","x":68,"y":-21},{"s":"R10","x":70,"y":-19},{"s":"R10","x":72,"y":-17},{"s":"R10","x":74,"y":-16},{"s":"R10","x":76,"y":-19},{"s":"R10","x":78,"y":-17.5},{"s":"R10","x":80,"y":-16},{"s":"R10","x":82,"y":-19},{"s":"R10","x":84,"y":-18},{"s":"R10","x":86,"y":-17},{"s":"R10","x":88,"y":-16},{"s":"R10","x":90,"y":-14},{"s":"R10","x":92,"y":-15},{"s":"R10","x":94,"y":-17},{"s":"R10","x":96,"y":-16},{"s":"R10","x":98,"y":-17.3}
],
"F":[{"x0":-4.9,"x1":102.9,"y0":-42.5,"y1":32}]
},
"hconcat":[
{
"width":747,"height":484,
"data":{"name":"L"},
"title":{"text":"class 0 - relevant","fontSize":98,"offset":-26},
"encoding":{
"x":{"field":"x","type":"quantitative","scale":{"domain":[-4.9,102.9],"nice":false,"zero":false},"axis":{"values":[0,20,40,60,80,100],"title":"Communication rounds","labelFontSize":37,"titleFontSize":62,"labelPadding":10,"titlePadding":6,"labelFlush":false}},
"y":{"field":"y","type":"quantitative","scale":{"domain":[-52.8,26.6],"nice":false,"zero":false},"axis":{"values":[-40,-20,0,20],"title":"Relevance scores","labelFontSize":37,"titleFontSize":62,"labelPadding":10,"titlePadding":12}}
},
"layer":[
{"transform":[{"filter":{"field":"s","oneOf":["G1","G2"]}}],"mark":{"type":"line","color":"#008000","strokeWidth":3},"encoding":{"detail":{"field":"s","type":"nominal"}}},
{"transform":[{"filter":{"field":"s","oneOf":["R1","R2","R3","R4","R5","R6","R7","R8","R9","R10"]}}],"mark":{"type":"line","color":"#ff0000","strokeWidth":3},"encoding":{"detail":{"field":"s","type":"nominal"}}}
]
},
{
"width":722,"height":477,
"view":{"stroke":null},
"title":{"text":"class 0 - irrelevant","fontSize":94,"offset":-33,"dx":-8},
"layer":[
{"data":{"name":"F"},"mark":{"type":"rect","filled":false,"stroke":"#000000","strokeWidth":1.6,"strokeOpacity":1},"encoding":{"x":{"field":"x0","type":"quantitative","scale":{"domain":[-4.9,102.9],"nice":false,"zero":false},"axis":{"values":[0,20,40,60,80,100],"title":"Communication rounds","labelFontSize":36,"titleFontSize":60,"labelPadding":7,"titlePadding":12,"labelFlush":false}},"x2":{"field":"x1"},"y":{"field":"y0","type":"quantitative","scale":{"domain":[-42.5,33.3],"nice":false,"zero":false},"axis":{"values":[-40,-20,0,20],"title":"Relevance scores","labelFontSize":36,"titleFontSize":60,"labelPadding":10,"titlePadding":13}},"y2":{"field":"y1"}}},
{"data":{"name":"R"},"transform":[{"filter":{"field":"s","oneOf":["G1","G2"]}}],"mark":{"type":"line","color":"#008000","strokeWidth":3},"encoding":{"x":{"field":"x","type":"quantitative"},"y":{"field":"y","type":"quantitative"},"detail":{"field":"s","type":"nominal"}}},
{"data":{"name":"R"},"transform":[{"filter":{"field":"s","oneOf":["R1","R2","R3","R4","R5","R6","R7","R8","R9","R10"]}}],"mark":{"type":"line","color":"#ff0000","strokeWidth":3},"encoding":{"x":{"field":"x","type":"quantitative"},"y":{"field":"y","type":"quantitative"},"detail":{"field":"s","type":"nominal"}}}
]
}
]
}
